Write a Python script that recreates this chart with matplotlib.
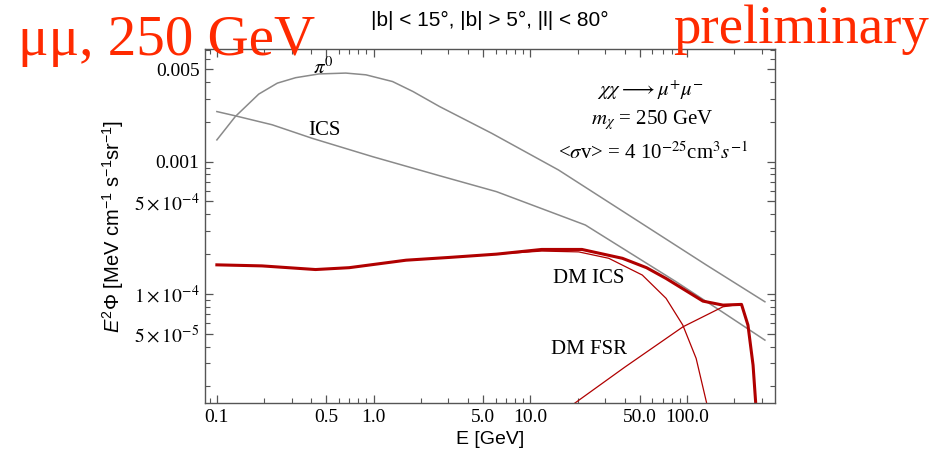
"""
Gamma-ray spectrum for the mid-latitude region: galactic pi0 and ICS
backgrounds, plus the dark matter (mu+ mu-, 250 GeV) ICS and FSR components.
"""
import matplotlib
matplotlib.use("Agg")
import matplotlib.pyplot as plt
import numpy as np
from matplotlib.ticker import FixedLocator, LogLocator, NullFormatter

OUT_PATH = "out.png"

# ---------------------------------------------------------------------------
# Data
# ---------------------------------------------------------------------------

# galactic pi0 decay background
pi0_E = [0.1, 0.131, 0.185, 0.243, 0.318, 0.448, 0.664, 0.893, 1.32, 1.78,
         2.63, 5.65, 15.1, 49.2, 132, 313]
pi0_flux = [1.46e-3, 2.19e-3, 3.24e-3, 3.92e-3, 4.31e-3, 4.60e-3, 4.67e-3,
            4.53e-3, 4.03e-3, 3.39e-3, 2.61e-3, 1.64e-3, 8.65e-4, 3.52e-4,
            1.66e-4, 8.73e-5]

# galactic inverse Compton background
ics_E = [0.1, 0.131, 0.225, 0.406, 0.986, 2.63, 6.08, 22.4, 84.7, 169, 313]
ics_flux = [2.39e-3, 2.22e-3, 1.90e-3, 1.50e-3, 1.09e-3, 7.83e-4, 5.93e-4,
            3.32e-4, 1.24e-4, 7.26e-5, 4.48e-5]

# dark matter total (ICS + FSR)
dm_tot_E = [0.1, 0.194, 0.426, 0.698, 1.61, 3.06, 6.08, 11.8, 21.3, 38.6,
            55.0, 73.3, 126, 169, 222, 244, 263, 277]
dm_tot_flux = [1.66e-4, 1.63e-4, 1.53e-4, 1.58e-4, 1.80e-4, 1.89e-4, 2.00e-4,
               2.17e-4, 2.17e-4, 1.86e-4, 1.58e-4, 1.31e-4, 8.83e-5, 8.24e-5,
               8.34e-5, 5.82e-5, 2.90e-5, 1.20e-5]

# dark matter inverse Compton
dm_ics_E = [0.1, 0.194, 0.426, 0.698, 1.61, 3.06, 6.08, 11.8, 20.3, 31.6,
            51.7, 73.3, 93.7, 114, 139]
dm_ics_flux = [1.66e-4, 1.63e-4, 1.53e-4, 1.58e-4, 1.80e-4, 1.89e-4, 2.00e-4,
               2.11e-4, 2.08e-4, 1.86e-4, 1.39e-4, 9.27e-5, 5.82e-5, 3.26e-5,
               1.20e-5]

# dark matter final state radiation
dm_fsr_E = [17, 40, 94, 169, 222, 244, 263, 277]
dm_fsr_flux = [1.35e-5, 2.80e-5, 5.65e-5, 8.00e-5, 8.40e-5, 5.80e-5, 2.90e-5,
               1.20e-5]

x_ticks = [0.1, 0.5, 1.0, 5.0, 10.0, 50.0, 100.0]
x_tick_labels = ["0.1", "0.5", "1.0", "5.0", "10.0", "50.0", "100.0"]
y_ticks = [5e-5, 1e-4, 5e-4, 1e-3, 5e-3]
y_tick_labels = [r"$5\times10^{-5}$", r"$1\times10^{-4}$",
                 r"$5\times10^{-4}$", "0.001", "0.005"]

GRAY = "#8a8a8a"
DMRED = "#b00000"
STAMP = "#ff2a00"
SERIF = "Liberation Serif"
SANS = "Liberation Sans"


def main() -> None:
    plt.rcParams["mathtext.fontset"] = "stix"
    plt.rcParams["mathtext.rm"] = SANS
    plt.rcParams["mathtext.it"] = SANS + ":italic"

    W, H = 942, 454
    fig = plt.figure(figsize=(W / 100, H / 100), dpi=100)
    ax = fig.add_axes([205 / W, 51 / H, 570 / W, 354 / H])

    ax.plot(pi0_E, pi0_flux, color=GRAY, lw=1.1)
    ax.plot(ics_E, ics_flux, color=GRAY, lw=1.1)
    ax.plot(dm_ics_E, dm_ics_flux, color=DMRED, lw=0.9)
    ax.plot(dm_fsr_E, dm_fsr_flux, color=DMRED, lw=0.9)
    ax.plot(dm_tot_E, dm_tot_flux, color=DMRED, lw=2.2)

    ax.set_xscale("log")
    ax.set_yscale("log")
    ax.set_xlim(0.084, 363)
    ax.set_ylim(1.5e-5, 7.1e-3)

    ax.xaxis.set_major_locator(FixedLocator(x_ticks))
    ax.set_xticklabels(x_tick_labels)
    ax.yaxis.set_major_locator(FixedLocator(y_ticks))
    ax.set_yticklabels(y_tick_labels)
    for axis in (ax.xaxis, ax.yaxis):
        axis.set_minor_locator(LogLocator(base=10, subs=np.arange(2, 10)))
        axis.set_minor_formatter(NullFormatter())

    ax.tick_params(which="both", direction="in", top=True, right=True,
                   color="#555555", labelsize=14, pad=4)
    ax.tick_params(which="major", length=6, width=0.9)
    ax.tick_params(which="minor", length=3.5, width=0.8)
    for lab in ax.get_xticklabels() + ax.get_yticklabels():
        lab.set_fontfamily(SERIF)
    for sp in ax.spines.values():
        sp.set_color("#555555")
        sp.set_linewidth(1.0)

    # curve labels
    lab_kw = dict(transform=ax.transAxes, ha="center", va="center",
                  fontsize=15, family=SERIF)
    ax.text(0.207, 0.946, r"$\pi^0$", **lab_kw)
    ax.text(0.210, 0.771, "ICS", **lab_kw)
    ax.text(0.673, 0.352, "DM ICS", **lab_kw)
    ax.text(0.673, 0.150, "DM FSR", **lab_kw)

    # model parameters
    ax.text(0.781, 0.884, r"$\chi\chi \longrightarrow \mu^{+}\mu^{-}$", **lab_kw)
    ax.text(0.784, 0.800, r"$m_\chi$ = 250 GeV", **lab_kw)
    ax.text(0.787, 0.705, r"<$\sigma$v> = 4 10$^{-25}$cm$^3$$s^{-1}$", **lab_kw)

    # axis labels and region title
    fig.text(113 / W, 1 - 226 / H,
             r"$E^2\Phi$ [MeV cm$^{-1}$ s$^{-1}$sr$^{-1}$]",
             rotation=90, ha="center", va="center", fontsize=14.5,
             family=SANS, math_fontfamily="custom")
    fig.text(490 / W, 1 - 440 / H, "E [GeV]", ha="center", va="center",
             fontsize=14, family=SANS)
    fig.text(490 / W, 1 - 20 / H, "|b| < 15°, |b| > 5°, |l| < 80°",
             ha="center", va="center", fontsize=15, family=SANS)

    # red stamps
    fig.text(18 / W, 1 - 55 / H, "μμ, 250 GeV", ha="left", va="baseline",
             fontsize=41, family=SERIF, color=STAMP)
    fig.text(673 / W, 1 - 43 / H, "preliminary", ha="left", va="baseline",
             fontsize=39.5, family=SERIF, color=STAMP)

    fig.savefig(OUT_PATH, dpi=100)
    plt.close(fig)


if __name__ == "__main__":
    main()
